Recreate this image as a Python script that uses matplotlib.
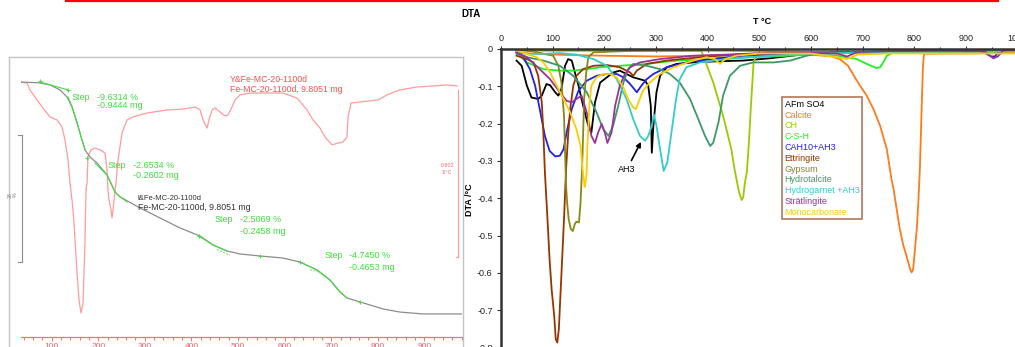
import matplotlib
matplotlib.use("Agg")
import matplotlib.pyplot as plt
from matplotlib.lines import Line2D
from matplotlib.ticker import MultipleLocator

plt.rcParams['font.family'] = ['Liberation Sans', 'DejaVu Sans']
plt.rcParams['axes.unicode_minus'] = False

W, H = 1015, 347

def fx(px):
    return px / W

def fy(py):
    return 1 - py / H

# ---- left panel: TG / DTA of the sample (screenshot-like) ----
dta_T = [32.2, 47.2, 53.6, 68.7, 81.5, 96.6, 111.6, 122.3, 128.8, 135.2, 139.5, 143.8, 148.1,
         154.5, 158.8, 163.1, 167.4, 169.5, 171.7, 173.8, 176.0, 178.1, 184.5, 193.1, 203.9,
         214.6, 218.9, 221.0, 223.2, 227.5, 229.6, 231.8, 236.1, 238.2, 242.5, 251.1, 261.8,
         274.7, 304.7, 347.6, 382.0, 407.7, 418.5, 424.9, 433.5, 437.8, 444.2, 450.6, 461.4,
         472.1, 478.5, 487.1, 493.6, 504.3, 525.8, 562.2, 596.6, 626.6, 648.1, 660.9, 675.9,
         686.7, 701.7, 714.6, 725.3, 733.9, 736.1, 742.5, 761.8, 800.4, 819.7, 847.6, 884.1,
         918.5, 948.5, 970.0]
dta_val = [0, -0.005, -0.038, -0.086, -0.125, -0.168, -0.182, -0.216, -0.278, -0.374, -0.485,
           -0.566, -0.677, -0.917, -1.046, -1.109, -1.061, -0.917, -0.758, -0.518, -0.485, -0.36,
           -0.326, -0.317, -0.326, -0.341, -0.422, -0.518, -0.566, -0.614, -0.653, -0.614, -0.518,
           -0.485, -0.374, -0.245, -0.182, -0.168, -0.149, -0.134, -0.13, -0.12, -0.134, -0.182,
           -0.221, -0.182, -0.134, -0.125, -0.144, -0.163, -0.158, -0.12, -0.086, -0.062, -0.053,
           -0.053, -0.053, -0.077, -0.134, -0.182, -0.221, -0.264, -0.302, -0.293, -0.288, -0.264,
           -0.168, -0.101, -0.096, -0.086, -0.062, -0.038, -0.024, -0.019, -0.014, -0.019]

tg_T = [32.2, 75.1, 96.6, 118.0, 133.0, 143.8, 154.5, 165.2, 171.7, 182.4, 197.4, 218.9, 236.1,
        246.8, 289.7, 332.6, 375.5, 418.5, 446.4, 476.4, 504.3, 547.2, 596.6, 633.0, 669.5,
        697.4, 718.9, 733.9, 761.8, 811.2, 847.6, 897.0, 980.7]
tg_pct = [100.0, 99.92, 99.75, 99.33, 98.74, 97.9, 96.55, 95.12, 94.27, 93.69, 93.18, 92.17,
          90.74, 90.32, 89.39, 88.55, 87.71, 87.03, 86.28, 85.77, 85.52, 85.35, 85.18, 84.84,
          84.17, 83.33, 82.32, 81.81, 81.48, 80.89, 80.63, 80.47, 80.47]

# green step evaluation lines
step_lines = [
    ([75, 135], [100.0, 99.33]),
    ([135, 144, 155, 165, 172], [98.74, 97.9, 96.55, 95.12, 94.27]),
    ([193, 219, 236, 247, 262], [93.18, 92.17, 90.74, 90.32, 89.9]),
    ([416, 446, 476], [87.03, 86.28, 85.77]),
    ([633, 670, 697, 719, 734], [84.84, 84.17, 83.33, 82.32, 81.81]),
]
step_dash = [([455, 483], [85.9, 85.4]), ([655, 682], [84.2, 83.9])]
step_marks_T = [75, 135, 176, 416, 547, 633, 762]
step_marks_tg = [100.05, 99.33, 93.6, 87.03, 85.35, 84.84, 81.48]
step_pct = ['-9.6314 %', '-2.6534 %', '-2.5069 %', '-4.7450 %']
step_mg = ['-0.9444 mg', '-0.2602 mg', '-0.2458 mg', '-0.4653 mg']

# ---- right panel: DTA of reference phases ----
afm_T = [30, 40, 50, 59, 72, 79, 88, 95, 105, 111, 117, 124, 130, 137, 143, 150, 159, 169, 175,
         182, 192, 205, 217, 230, 243, 256, 269, 279, 285, 290, 292, 295, 301, 308, 321, 340,
         380, 420, 469, 520, 600, 700, 800, 900, 1000]
afm = [-0.031, -0.045, -0.098, -0.13, -0.134, -0.125, -0.094, -0.097, -0.116, -0.125, -0.107,
       -0.045, -0.027, -0.031, -0.063, -0.098, -0.152, -0.206, -0.224, -0.143, -0.09, -0.076,
       -0.063, -0.058, -0.067, -0.076, -0.081, -0.085, -0.098, -0.152, -0.278, -0.206, -0.116,
       -0.072, -0.049, -0.04, -0.035, -0.033, -0.031, -0.025, -0.012, -0.008, -0.006, -0.005, -0.004]

calcite_T = [30, 60, 100, 200, 300, 400, 500, 600, 640, 656, 672, 685, 695, 708, 721, 734, 747,
             756, 760, 766, 772, 779, 785, 792, 795, 798, 801, 805, 808, 811, 814, 817, 819, 850,
             900, 950, 1000]
calcite = [-0.01, -0.012, -0.015, -0.018, -0.02, -0.018, -0.015, -0.015, -0.02, -0.027, -0.045,
           -0.076, -0.098, -0.125, -0.161, -0.206, -0.269, -0.349, -0.375, -0.429, -0.482, -0.527,
           -0.554, -0.59, -0.599, -0.59, -0.545, -0.482, -0.411, -0.321, -0.179, -0.045, -0.013,
           -0.012, -0.012, -0.011, -0.01]

ch_T = [30, 100, 200, 300, 388, 411, 430, 446, 452, 456, 461, 466, 469, 472, 476, 480, 484, 489,
        495, 600, 700, 800, 900, 1000]
ch = [-0.004, -0.005, -0.005, -0.005, -0.005, -0.09, -0.179, -0.269, -0.321, -0.35, -0.385,
      -0.405, -0.397, -0.36, -0.33, -0.25, -0.15, -0.036, -0.015, -0.01, -0.008, -0.007,
      -0.006, -0.005]

csh_T = [30, 50, 82, 114, 140, 166, 192, 230, 282, 340, 405, 482, 528, 600, 650, 669, 689, 708,
         727, 734, 740, 747, 760, 800, 900, 1000]
csh = [-0.01, -0.036, -0.054, -0.058, -0.058, -0.054, -0.049, -0.045, -0.04, -0.031, -0.027,
       -0.022, -0.02, -0.015, -0.018, -0.022, -0.027, -0.04, -0.051, -0.049, -0.036, -0.018,
       -0.009, -0.008, -0.007, -0.006]

cah_T = [30, 34, 43, 56, 66, 75, 85, 94, 105, 114, 121, 127, 137, 150, 166, 185, 205, 224, 237,
         250, 263, 272, 282, 295, 321, 359, 405, 469, 550, 650, 750, 850, 900, 927, 940, 949,
         956, 966, 980, 1000]
cah = [-0.005, -0.009, -0.022, -0.054, -0.098, -0.161, -0.233, -0.273, -0.288, -0.286, -0.269,
       -0.224, -0.161, -0.112, -0.085, -0.072, -0.067, -0.067, -0.076, -0.094, -0.116, -0.098,
       -0.081, -0.067, -0.049, -0.036, -0.027, -0.018, -0.013, -0.01, -0.008, -0.006, -0.005,
       -0.004, -0.013, -0.02, -0.02, -0.004, -0.003, -0.002]

ett_T = [30, 50, 63, 72, 79, 82, 85, 90, 94, 98, 103, 106, 109, 112, 115, 119, 122, 126, 130,
         134, 140, 146, 159, 179, 205, 230, 250, 256, 263, 282, 321, 385, 469, 550, 650, 750,
         850, 950, 1000]
ett = [-0.018, -0.027, -0.036, -0.072, -0.143, -0.224, -0.331, -0.456, -0.563, -0.644, -0.715,
       -0.778, -0.787, -0.751, -0.662, -0.545, -0.456, -0.321, -0.23, -0.161, -0.098, -0.072,
       -0.054, -0.045, -0.043, -0.049, -0.063, -0.072, -0.058, -0.04, -0.031, -0.022, -0.013,
       -0.01, -0.008, -0.007, -0.006, -0.005, -0.004]

gyp_T = [30, 60, 101, 111, 117, 122, 125, 126, 128, 131, 135, 139, 143, 146, 151, 154, 157, 161,
         165, 169, 179, 250, 350, 500, 650, 800, 1000]
gyp = [-0.002, -0.006, -0.018, -0.045, -0.09, -0.179, -0.322, -0.366, -0.411, -0.456, -0.482,
       -0.488, -0.469, -0.463, -0.465, -0.411, -0.321, -0.134, -0.063, -0.022, -0.009, -0.005,
       -0.004, -0.005, -0.01, -0.006, -0.004]

ht_T = [30, 50, 82, 114, 140, 166, 185, 198, 208, 217, 227, 237, 246, 256, 282, 308, 327, 346,
        366, 382, 395, 405, 411, 421, 430, 443, 463, 488, 528, 560, 592, 611, 700, 800, 900, 1000]
ht = [-0.013, -0.022, -0.031, -0.045, -0.072, -0.116, -0.17, -0.215, -0.233, -0.206, -0.152,
      -0.09, -0.054, -0.04, -0.045, -0.054, -0.067, -0.09, -0.134, -0.188, -0.233, -0.26, -0.251,
      -0.197, -0.125, -0.072, -0.045, -0.036, -0.036, -0.031, -0.018, -0.013, -0.01, -0.008,
      -0.007, -0.006]

hg_T = [30, 50, 82, 114, 146, 179, 205, 224, 243, 256, 269, 279, 285, 292, 296, 301, 308, 315,
        322, 330, 339, 346, 359, 385, 437, 500, 600, 700, 800, 900, 950, 1000]
hg = [-0.009, -0.013, -0.013, -0.011, -0.015, -0.027, -0.045, -0.081, -0.134, -0.188, -0.233,
      -0.246, -0.233, -0.206, -0.175, -0.206, -0.269, -0.327, -0.304, -0.224, -0.134, -0.081,
      -0.049, -0.036, -0.027, -0.02, -0.013, -0.01, -0.008, -0.007, -0.007, -0.005]

str_T = [30, 50, 75, 95, 114, 127, 137, 146, 156, 166, 175, 182, 188, 195, 201, 206, 214, 221,
         230, 240, 250, 269, 308, 372, 500, 600, 650, 670, 690, 750, 850, 937, 953, 962, 972, 1000]
strat = [-0.009, -0.022, -0.054, -0.081, -0.116, -0.139, -0.143, -0.134, -0.125, -0.17, -0.233,
         -0.252, -0.224, -0.201, -0.224, -0.252, -0.224, -0.152, -0.098, -0.067, -0.049, -0.036,
         -0.027, -0.018, -0.012, -0.01, -0.012, -0.02, -0.008, -0.006, -0.005, -0.006, -0.025,
         -0.02, -0.004, -0.002]

mc_T = [30, 50, 69, 82, 95, 108, 121, 134, 146, 154, 158, 161, 162, 165, 166, 167, 171, 175, 185,
        198, 211, 224, 237, 246, 256, 261, 266, 275, 288, 308, 334, 372, 398, 414, 424, 434, 456,
        501, 600, 650, 670, 690, 750, 850, 1000]
mc = [-0.004, -0.013, -0.022, -0.036, -0.063, -0.098, -0.134, -0.17, -0.215, -0.26, -0.322,
      -0.357, -0.37, -0.346, -0.321, -0.269, -0.152, -0.098, -0.076, -0.067, -0.067, -0.076,
      -0.103, -0.134, -0.157, -0.161, -0.143, -0.112, -0.09, -0.067, -0.049, -0.031, -0.022,
      -0.027, -0.04, -0.027, -0.018, -0.012, -0.012, -0.022, -0.027, -0.015, -0.012, -0.012,
      -0.012]

phases = ['AFm SO4', 'Calcite', 'CH', 'C-S-H', 'CAH10+AH3', 'Ettringite', 'Gypsum',
          'Hydrotalcite', 'Hydrogarnet +AH3', 'Str\u00e4tlingite', 'Monocarbonate']
series = [(afm_T, afm), (calcite_T, calcite), (ch_T, ch), (csh_T, csh), (cah_T, cah),
          (ett_T, ett), (gyp_T, gyp), (ht_T, ht), (hg_T, hg), (str_T, strat), (mc_T, mc)]
colors = ['#000000', '#ff7a1a', '#99cc00', '#22ee22', '#2020ee', '#993300', '#888812',
          '#3c9966', '#33cccc', '#993399', '#ffcc00']

fig = plt.figure(figsize=(W / 100, H / 100), dpi=100)

# red rule across the top
fig.add_artist(Line2D([fx(66), fx(998)], [fy(0.8), fy(0.8)], color='#ff0000', lw=1.6))

# screenshot frame
frame = fig.add_axes([fx(9), fy(362), 454 / W, 305 / H])
frame.set_xticks([])
frame.set_yticks([])
for s in frame.spines.values():
    s.set_color('#c4c4c4')
    s.set_linewidth(1.0)

axl = fig.add_axes([fx(21), fy(337), 441 / W, 280 / H])
axl.patch.set_alpha(0)
axl.set_xlim(34.3, 980.7)
axl.set_ylim(-1.224, 0.12)
axl.plot(dta_T, dta_val, color='#ff9c9c', lw=0.9)
for k in ['top', 'left', 'right']:
    axl.spines[k].set_visible(False)
axl.spines['bottom'].set_color('#ff7070')
axl.spines['bottom'].set_linewidth(0.9)
axl.set_yticks([])
axl.xaxis.set_major_locator(MultipleLocator(100))
axl.xaxis.set_minor_locator(MultipleLocator(20))
axl.tick_params(axis='x', which='both', colors='#ff7070', labelcolor='#ff5a5a',
                direction='out', length=3, width=0.7, labelsize=6, pad=1)
axl.tick_params(axis='x', which='minor', length=2.2)
# DTA scale bar
axl.plot([972, 972], [-0.038, -0.84], color='#ff9c9c', lw=0.9, clip_on=False)
axl.plot([967, 972], [-0.84, -0.84], color='#ff9c9c', lw=0.9, clip_on=False)

axt = axl.twinx()
axt.set_ylim(78.53, 102.1)
axt.set_yticks([])
for s in axt.spines.values():
    s.set_visible(False)
axt.plot(tg_T, tg_pct, color='#8c8c8c', lw=0.9)
for xs, ys in step_lines:
    axt.plot(xs, ys, color='#44dd44', lw=0.8)
for xs, ys in step_dash:
    axt.plot(xs, ys, color='#66e066', lw=0.7, ls=(0, (2, 1.5)))
axt.plot(step_marks_T, step_marks_tg, ls='none', marker='+', ms=3.5, mew=0.7, color='#44dd44')
# TG scale bar
axt.plot([36.5, 36.5], [95.54, 84.84], color='#8c8c8c', lw=0.8, clip_on=False)
axt.plot([27.9, 36.5], [95.54, 95.54], color='#8c8c8c', lw=0.8, clip_on=False)
axt.plot([27.9, 36.5], [84.84, 84.84], color='#8c8c8c', lw=0.8, clip_on=False)

fig.text(fx(13), fy(195), '28\n%', rotation=90, fontsize=3.8, color='#777777',
         ha='center', va='center', linespacing=1.0)
fig.text(fx(447), fy(169), '0.802\n1/\u00b0C', fontsize=3.8, color='#ff6060',
         ha='center', va='center', linespacing=1.3)

fig.text(fx(230), fy(79), 'Y&Fe-MC-20-1100d', fontsize=6.3, color='#ff5050', va='center')
fig.text(fx(230), fy(89), 'Fe-MC-20-1100d, 9.8051 mg', fontsize=6.3, color='#ff5050',
         va='center')
fig.text(fx(138), fy(198), 'l&Fe-MC-20-1100d', fontsize=5.5, color='#333333', va='center')
fig.text(fx(138), fy(208), 'Fe-MC-20-1100d, 9.8051 mg', fontsize=6.3, color='#333333',
         va='center')

step_pos = [(72, 97, 97, 105), (108, 133, 166, 176), (215, 240, 220, 232), (325, 349, 256, 267)]
for (xs, xv, y1, y2), p, m in zip(step_pos, step_pct, step_mg):
    fig.text(fx(xs), fy(y1), 'Step', fontsize=6.5, color='#40dd40', va='center')
    fig.text(fx(xv), fy(y1), p, fontsize=6.5, color='#40dd40', va='center')
    fig.text(fx(xv), fy(y2), m, fontsize=6.5, color='#40dd40', va='center')

# ---- right DTA chart ----
axr = fig.add_axes([fx(501), fy(366.05), 516.5 / W, 317.05 / H])
handles = []
for (xs, ys), c, lab in zip(series, colors, phases):
    ln, = axr.plot(xs, ys, color=c, lw=1.3, label=lab)
    handles.append(ln)
axr.set_xlim(0, 1000)
axr.set_ylim(-0.85, 0)
axr.xaxis.tick_top()
axr.xaxis.set_major_locator(MultipleLocator(100))
axr.xaxis.set_minor_locator(MultipleLocator(50))
axr.yaxis.set_major_locator(MultipleLocator(0.1))
axr.yaxis.set_major_formatter(plt.FuncFormatter(lambda v, p: '0' if abs(v) < 1e-9 else '%.1f' % v))
axr.tick_params(axis='x', which='both', direction='inout', length=4, width=0.8,
                labelsize=6.5, pad=2.5, colors='#333333', labelcolor='#222222')
axr.tick_params(axis='x', which='minor', length=3)
axr.tick_params(axis='y', direction='out', length=3, width=0.8, labelsize=6.5, pad=3,
                colors='#333333', labelcolor='#222222')
for k in ['right', 'bottom']:
    axr.spines[k].set_visible(False)
for k in ['left', 'top']:
    axr.spines[k].set_color('#333333')
    axr.spines[k].set_linewidth(1.8)

axr.annotate('AH3', xy=(271, -0.249), xytext=(244, -0.322), fontsize=6.5, ha='center',
             va='center', arrowprops=dict(arrowstyle='-|>', color='black', lw=1.2,
                                          mutation_scale=7, shrinkA=1, shrinkB=0))

leg = axr.legend(handles=handles, loc='upper left', bbox_to_anchor=(fx(782), fy(97)),
                 bbox_transform=fig.transFigure, handlelength=0, handletextpad=0,
                 labelcolor='linecolor', fontsize=6.5, fancybox=False, borderpad=0.3,
                 labelspacing=0.2, borderaxespad=0, framealpha=1)
leg.get_frame().set_edgecolor('#b07858')
leg.get_frame().set_linewidth(1.2)
for h in leg.legend_handles:
    h.set_visible(False)

fig.text(fx(471), fy(14), 'DTA', fontsize=7, fontweight='bold', ha='center', va='center')
fig.text(fx(762), fy(22), 'T \u00b0C', fontsize=6.5, fontweight='bold', ha='center', va='center')
fig.text(fx(470), fy(200), 'DTA /\u00b0C', fontsize=6.5, fontweight='bold', rotation=90,
         ha='center', va='center')

fig.savefig('out.png', dpi=100)
